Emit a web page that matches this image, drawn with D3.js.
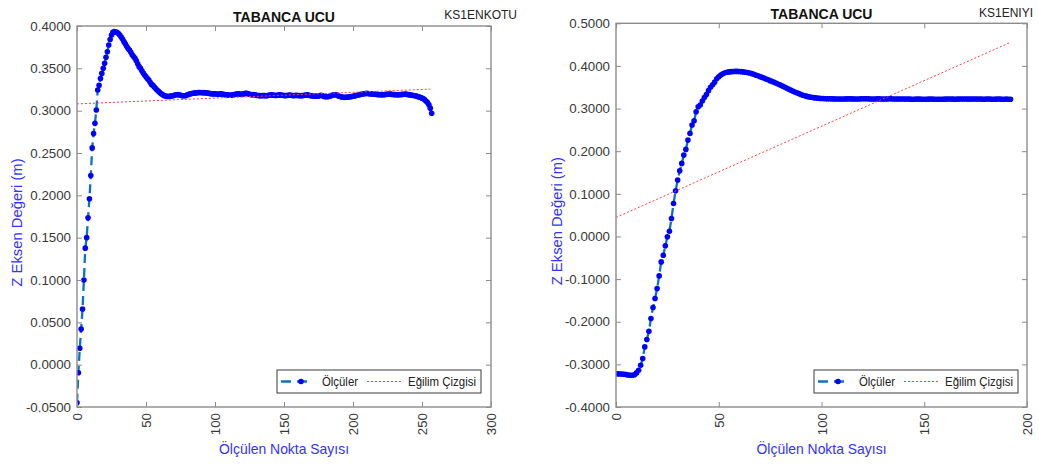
<!DOCTYPE html>
<html>
<head>
<meta charset="utf-8">
<script src="https://cdn.jsdelivr.net/npm/d3@7"></script>
<style>
  html, body { margin: 0; padding: 0; background: #fff; }
  svg { display: block; font-family: "Liberation Sans", Arial, sans-serif; }
</style>
</head>
<body>
<svg id="chart" width="1039" height="466"></svg>
<script>
// ---------------- DATA ----------------
const titleText = "TABANCA UCU";
const xAxisTitle = "Ölçülen Nokta Sayısı";
const yAxisTitle = "Z Eksen Değeri (m)";
const legendSeries = "Ölçüler";
const legendTrend = "Eğilim Çizgisi";

const leftTag = "KS1ENKOTU";
const rightTag = "KS1ENIYI";

// Left panel: measured Z values, point index 0..256
const leftValues = [
 -0.0450,-0.0095,0.0194,0.0420,0.0658,0.1000,0.1376,0.1500,0.1734,0.1960,
 0.2235,0.2560,0.2730,0.2850,0.3007,0.3244,0.3300,0.3380,0.3440,0.3500,
 0.3559,0.3630,0.3696,0.3775,0.3840,0.3894,0.3925,0.3933,0.3930,0.3925,
 0.3910,0.3894,0.3870,0.3845,0.3815,0.3790,0.3760,0.3735,0.3716,0.3690,
 0.3660,0.3640,0.3618,0.3590,0.3555,0.3520,0.3500,0.3470,0.3445,0.3420,
 0.3400,0.3380,0.3362,0.3335,0.3310,0.3300,0.3280,0.3262,0.3244,0.3228,
 0.3215,0.3200,0.3190,0.3180,0.3173,0.3170,0.3168,0.3170,0.3172,0.3175,
 0.3180,0.3185,0.3188,0.3190,0.3188,0.3182,0.3178,0.3176,0.3176,0.3180,
 0.3186,0.3192,0.3198,0.3202,0.3205,0.3208,0.3210,0.3212,0.3214,0.3215,
 0.3214,0.3212,0.3213,0.3212,0.3210,0.3206,0.3204,0.3200,0.3198,0.3200,
 0.3198,0.3196,0.3194,0.3196,0.3198,0.3195,0.3192,0.3190,0.3188,0.3186,
 0.3184,0.3182,0.3184,0.3186,0.3190,0.3194,0.3198,0.3200,0.3196,0.3192,
 0.3195,0.3200,0.3204,0.3206,0.3200,0.3194,0.3190,0.3188,0.3190,0.3186,
 0.3182,0.3180,0.3178,0.3176,0.3178,0.3180,0.3178,0.3176,0.3178,0.3182,
 0.3184,0.3186,0.3184,0.3182,0.3180,0.3182,0.3184,0.3186,0.3184,0.3182,
 0.3180,0.3178,0.3180,0.3182,0.3184,0.3182,0.3180,0.3178,0.3180,0.3182,
 0.3180,0.3178,0.3176,0.3178,0.3180,0.3182,0.3184,0.3186,0.3182,0.3178,
 0.3176,0.3174,0.3172,0.3170,0.3172,0.3174,0.3178,0.3182,0.3176,0.3168,
 0.3166,0.3165,0.3166,0.3170,0.3176,0.3182,0.3186,0.3188,0.3186,0.3178,
 0.3170,0.3164,0.3160,0.3158,0.3157,0.3158,0.3160,0.3162,0.3164,0.3166,
 0.3170,0.3174,0.3178,0.3182,0.3186,0.3190,0.3194,0.3197,0.3200,0.3202,
 0.3204,0.3202,0.3200,0.3198,0.3196,0.3195,0.3194,0.3192,0.3190,0.3189,
 0.3188,0.3188,0.3188,0.3190,0.3192,0.3194,0.3196,0.3195,0.3193,0.3191,
 0.3190,0.3189,0.3188,0.3188,0.3189,0.3190,0.3192,0.3194,0.3195,0.3193,
 0.3190,0.3186,0.3184,0.3182,0.3180,0.3176,0.3172,0.3166,0.3160,0.3155,
 0.3148,0.3140,0.3128,0.3112,0.3095,0.3070,0.3030,0.2970
];

// Right panel: measured Z values, point index 0..192
const rightValues = [
 -0.3220,-0.3222,-0.3225,-0.3228,-0.3232,-0.3240,-0.3248,-0.3254,-0.3256,-0.3245,
 -0.3200,-0.3138,-0.3020,-0.2864,-0.2590,-0.2418,-0.2223,-0.1925,-0.1667,-0.1455,
 -0.1220,-0.0925,-0.0596,-0.0439,-0.0220,-0.0009,0.0124,0.0422,0.0775,0.1070,
 0.1322,0.1540,0.1714,0.1908,0.2042,0.2260,0.2418,0.2613,0.2714,0.2925,
 0.3042,0.3082,0.3176,0.3260,0.3330,0.3420,0.3500,0.3560,0.3620,0.3700,
 0.3747,0.3785,0.3815,0.3840,0.3852,0.3860,0.3866,0.3870,0.3872,0.3872,
 0.3870,0.3866,0.3860,0.3852,0.3845,0.3835,0.3820,0.3805,0.3785,0.3768,
 0.3750,0.3732,0.3715,0.3695,0.3675,0.3655,0.3635,0.3615,0.3595,0.3572,
 0.3550,0.3527,0.3505,0.3480,0.3455,0.3432,0.3410,0.3390,0.3370,0.3350,
 0.3330,0.3312,0.3298,0.3285,0.3274,0.3264,0.3256,0.3250,0.3244,0.3240,
 0.3236,0.3234,0.3232,0.3230,0.3229,0.3228,0.3227,0.3226,0.3226,0.3225,
 0.3225,0.3226,0.3227,0.3228,0.3228,0.3227,0.3226,0.3225,0.3226,0.3228,
 0.3230,0.3231,0.3230,0.3228,0.3226,0.3225,0.3226,0.3228,0.3227,0.3225,
 0.3224,0.3225,0.3227,0.3229,0.3228,0.3226,0.3224,0.3222,0.3223,0.3225,
 0.3226,0.3225,0.3223,0.3221,0.3220,0.3220,0.3221,0.3222,0.3221,0.3220,
 0.3219,0.3220,0.3221,0.3222,0.3221,0.3220,0.3219,0.3218,0.3219,0.3220,
 0.3221,0.3222,0.3223,0.3222,0.3221,0.3220,0.3221,0.3222,0.3223,0.3224,
 0.3223,0.3222,0.3221,0.3222,0.3224,0.3226,0.3225,0.3223,0.3221,0.3220,
 0.3222,0.3225,0.3223,0.3220,0.3218,0.3221,0.3225,0.3222,0.3218,0.3220,
 0.3223,0.3220,0.3218
];

// Trend (linear fit) lines: endpoints [x], [z]
const leftTrendX = [0, 256];
const leftTrendY = [0.3080, 0.3255];
const rightTrendX = [0, 192];
const rightTrendY = [0.0446, 0.4554];

// Axis ticks
const leftXTicks = [0, 50, 100, 150, 200, 250, 300];
const leftYTicks = [-0.05, 0, 0.05, 0.10, 0.15, 0.20, 0.25, 0.30, 0.35, 0.40];
const leftYLabels = ["-0.0500","0.0000","0.0500","0.1000","0.1500","0.2000","0.2500","0.3000","0.3500","0.4000"];
const rightXTicks = [0, 50, 100, 150, 200];
const rightYTicks = [-0.4, -0.3, -0.2, -0.1, 0, 0.1, 0.2, 0.3, 0.4, 0.5];
const rightYLabels = ["-0.4000","-0.3000","-0.2000","-0.1000","0.0000","0.1000","0.2000","0.3000","0.4000","0.5000"];

// ---------------- DRAW ----------------
const svg = d3.select("#chart");
const lineColor = "#0a72c8";
const markerColor = "#0000ff";
const trendColor = "#ff4040";
const frameColor = "#8c8c8c";
const tickTextColor = "#383838";
const labelColor = "#3232ff";

function panel(cfg) {
  const x = d3.scaleLinear().domain(cfg.xDomain).range([cfg.l, cfg.r]);
  const y = d3.scaleLinear().domain(cfg.yDomain).range([cfg.b, cfg.t]);
  const g = svg.append("g");

  g.append("rect")
    .attr("x", cfg.l).attr("y", cfg.t)
    .attr("width", cfg.r - cfg.l).attr("height", cfg.b - cfg.t)
    .attr("fill", "#fff");

  const clipId = "clip" + cfg.id;
  svg.append("clipPath").attr("id", clipId).append("rect")
    .attr("x", cfg.l).attr("y", cfg.t - 3)
    .attr("width", cfg.r - cfg.l).attr("height", cfg.b - cfg.t + 3);

  const plot = g.append("g").attr("clip-path", `url(#${clipId})`);

  const line = d3.line().x((d, i) => x(i)).y(d => y(d));
  plot.append("path").datum(cfg.values)
    .attr("d", line)
    .attr("fill", "none")
    .attr("stroke", lineColor)
    .attr("stroke-width", 2.3)
    .attr("stroke-dasharray", "9,5");

  plot.selectAll("circle.pt").data(cfg.values).join("circle")
    .attr("class", "pt")
    .attr("cx", (d, i) => x(i)).attr("cy", d => y(d))
    .attr("r", 2.8)
    .attr("fill", markerColor);

  const trend = cfg.trendX.map((xx, i) => [xx, cfg.trendY[i]]);
  plot.append("path").datum(trend)
    .attr("d", d3.line().x(d => x(d[0])).y(d => y(d[1])))
    .attr("fill", "none")
    .attr("stroke", trendColor)
    .attr("stroke-width", 1)
    .attr("stroke-dasharray", "2,2");

  const tickLen = 5;
  const fmtY = d => cfg.yLabels[cfg.yTicks.indexOf(d)];

  const ax = [];
  ax.push(g.append("g").attr("transform", `translate(0,${cfg.b})`)
    .call(d3.axisBottom(x).tickValues(cfg.xTicks).tickSize(-tickLen).tickSizeOuter(0).tickPadding(6)));
  ax.push(g.append("g").attr("transform", `translate(0,${cfg.t})`)
    .call(d3.axisTop(x).tickValues(cfg.xTicks).tickSize(-tickLen).tickSizeOuter(0).tickFormat("")));
  ax.push(g.append("g").attr("transform", `translate(${cfg.l},0)`)
    .call(d3.axisLeft(y).tickValues(cfg.yTicks).tickSize(-tickLen).tickSizeOuter(0).tickPadding(6).tickFormat(fmtY)));
  ax.push(g.append("g").attr("transform", `translate(${cfg.r},0)`)
    .call(d3.axisRight(y).tickValues(cfg.yTicks).tickSize(-tickLen).tickSizeOuter(0).tickFormat("")));

  ax.forEach(a => {
    a.select(".domain").remove();
    a.selectAll(".tick line").attr("stroke", frameColor).attr("stroke-width", 1);
    a.selectAll(".tick text")
      .attr("fill", tickTextColor)
      .style("font-size", "13.3px")
      .style("font-family", '"Liberation Sans", Arial, sans-serif');
  });

  ax[0].selectAll(".tick text")
    .attr("transform", "rotate(-90)")
    .attr("x", -6).attr("y", 0)
    .attr("dy", "0.35em")
    .attr("text-anchor", "end");

  g.append("rect")
    .attr("x", cfg.l).attr("y", cfg.t)
    .attr("width", cfg.r - cfg.l).attr("height", cfg.b - cfg.t)
    .attr("fill", "none")
    .attr("stroke", frameColor)
    .attr("stroke-width", 1.4);

  const cx = (cfg.l + cfg.r) / 2;
  g.append("text")
    .attr("x", cx).attr("y", cfg.t - 4)
    .attr("text-anchor", "middle")
    .attr("font-weight", "bold")
    .attr("font-size", 15)
    .attr("textLength", 102).attr("lengthAdjust", "spacingAndGlyphs")
    .attr("fill", "#111")
    .text(titleText);

  g.append("text")
    .attr("x", cfg.tagX).attr("y", cfg.tagY)
    .attr("text-anchor", "end")
    .attr("font-size", 12)
    .attr("fill", "#222")
    .text(cfg.tag);

  g.append("text")
    .attr("x", cx).attr("y", 454)
    .attr("text-anchor", "middle")
    .attr("font-size", 15)
    .attr("textLength", 130).attr("lengthAdjust", "spacingAndGlyphs")
    .attr("fill", labelColor)
    .text(xAxisTitle);

  g.append("text")
    .attr("transform", `translate(${cfg.yLabelX},${(cfg.t + cfg.b) / 2 + 6}) rotate(-90)`)
    .attr("text-anchor", "middle")
    .attr("dy", "0.35em")
    .attr("font-size", 14.8)
    .attr("fill", labelColor)
    .text(yAxisTitle);

  const lx = cfg.legendX, ly = 370, lw = 204, lh = 23;
  const lg = g.append("g");
  lg.append("rect")
    .attr("x", lx).attr("y", ly).attr("width", lw).attr("height", lh)
    .attr("fill", "#fff").attr("stroke", "#3a3a3a").attr("stroke-width", 1);
  const my = ly + lh / 2;
  lg.append("line")
    .attr("x1", lx + 4).attr("x2", lx + 34).attr("y1", my).attr("y2", my)
    .attr("stroke", lineColor).attr("stroke-width", 2.6).attr("stroke-dasharray", "10,6");
  lg.append("circle").attr("cx", lx + 24).attr("cy", my).attr("r", 2.8).attr("fill", markerColor);
  lg.append("text")
    .attr("x", lx + 45).attr("y", my + 4.3)
    .attr("font-size", 12).attr("fill", "#222")
    .attr("textLength", 36).attr("lengthAdjust", "spacingAndGlyphs")
    .text(legendSeries);
  lg.append("line")
    .attr("x1", lx + 90).attr("x2", lx + 124).attr("y1", my).attr("y2", my)
    .attr("stroke", trendColor).attr("stroke-width", 1).attr("stroke-dasharray", "2,2");
  lg.append("text")
    .attr("x", lx + 131).attr("y", my + 4.3)
    .attr("font-size", 12).attr("fill", "#222")
    .attr("textLength", 68).attr("lengthAdjust", "spacingAndGlyphs")
    .text(legendTrend);
}

panel({
  id: "L", l: 77, r: 491, t: 26, b: 407,
  xDomain: [0, 300], yDomain: [-0.05, 0.40],
  values: leftValues, trendX: leftTrendX, trendY: leftTrendY,
  xTicks: leftXTicks, yTicks: leftYTicks, yLabels: leftYLabels,
  tag: leftTag, tagX: 517, tagY: 19,
  yLabelX: 17, legendX: 277
});

panel({
  id: "R", l: 616, r: 1027, t: 23.3, b: 407,
  xDomain: [0, 200], yDomain: [-0.4, 0.5],
  values: rightValues, trendX: rightTrendX, trendY: rightTrendY,
  xTicks: rightXTicks, yTicks: rightYTicks, yLabels: rightYLabels,
  tag: rightTag, tagX: 1033, tagY: 17,
  yLabelX: 557, legendX: 814
});
</script>
</body>
</html>
